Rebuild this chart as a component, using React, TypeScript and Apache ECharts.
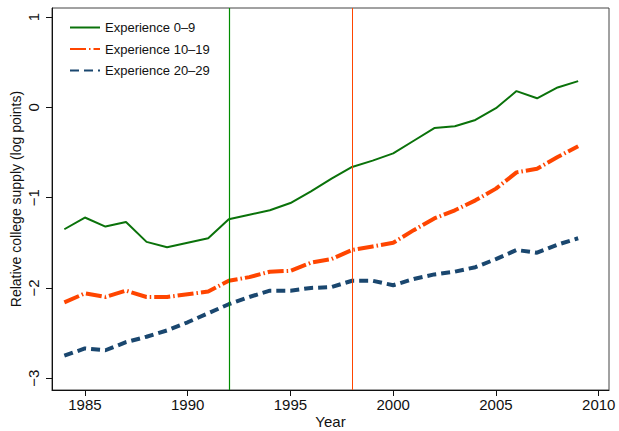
import React, { useEffect, useRef } from "react";
import * as echarts from "echarts";

const years = [1984,1985,1986,1987,1988,1989,1990,1991,1992,1993,1994,1995,1996,1997,1998,1999,2000,2001,2002,2003,2004,2005,2006,2007,2008,2009];
const exp0_9 = [-1.35,-1.22,-1.32,-1.27,-1.49,-1.55,-1.50,-1.45,-1.24,-1.19,-1.14,-1.06,-0.93,-0.79,-0.66,-0.59,-0.51,-0.37,-0.23,-0.21,-0.14,-0.01,0.18,0.10,0.22,0.29];
const exp10_19 = [-2.16,-2.06,-2.10,-2.03,-2.10,-2.10,-2.07,-2.04,-1.92,-1.88,-1.82,-1.81,-1.72,-1.68,-1.58,-1.54,-1.50,-1.36,-1.23,-1.14,-1.03,-0.90,-0.72,-0.68,-0.55,-0.43];
const exp20_29 = [-2.75,-2.67,-2.69,-2.60,-2.54,-2.47,-2.38,-2.28,-2.18,-2.10,-2.03,-2.03,-2.00,-1.99,-1.92,-1.92,-1.97,-1.90,-1.85,-1.82,-1.77,-1.68,-1.58,-1.61,-1.52,-1.45];
const xTicks = [1985, 1990, 1995, 2000, 2005, 2010];
const yTicks = [-3, -2, -1, 0, 1];
const vLines = [1992, 1998];
const seriesNames = ["Experience 0–9", "Experience 10–19", "Experience 20–29"];

const FONT = "Liberation Sans, Arial, Helvetica, sans-serif";
const GREEN = "#0a720a";
const ORANGE = "#ff4500";
const NAVY = "#1a476f";

export default function App() {
  const ref = useRef<HTMLDivElement>(null);
  useEffect(() => {
    if (!ref.current) return;
    const chart = echarts.init(ref.current, undefined, { renderer: "svg" });
    const pair = (arr: number[]) => years.map((y, i) => [y, arr[i]]);
    chart.setOption({
      animation: false,
      backgroundColor: "#fff",
      textStyle: { fontFamily: FONT },
      grid: {
        left: 52, right: 10, top: 8, bottom: 41,
        show: true, borderColor: "#444", borderWidth: 1,
        containLabel: false, outerBoundsMode: "none",
      },
      legend: {
        orient: "vertical",
        left: 64,
        top: 16,
        itemWidth: 30,
        itemHeight: 14,
        itemGap: 8.5,
        itemStyle: { opacity: 0 },
        textStyle: { fontSize: 13, color: "#111", fontFamily: FONT },
        data: seriesNames,
      },
      xAxis: {
        type: "value",
        min: 1983.4,
        max: 2010.5,
        name: "Year",
        nameLocation: "middle",
        nameGap: 24,
        nameMoveOverlap: false,
        nameTextStyle: { fontSize: 15, lineHeight: 15, color: "#111", fontFamily: FONT },
        splitLine: { show: false },
        axisLine: { show: true, onZero: false, lineStyle: { color: "#111", width: 1 } },
        axisTick: { show: true, length: 6, customValues: xTicks, lineStyle: { color: "#111" } },
        axisLabel: {
          customValues: xTicks,
          fontSize: 15,
          color: "#111",
          margin: 7,
          fontFamily: FONT,
          formatter: (v: number) => String(v),
        },
      },
      yAxis: {
        type: "value",
        min: -3.13,
        max: 1.1,
        name: "Relative college supply (log points)",
        nameLocation: "middle",
        nameGap: 29,
        nameMoveOverlap: false,
        nameTextStyle: { fontSize: 14, lineHeight: 14, color: "#111", fontFamily: FONT },
        splitLine: { show: false },
        axisLine: { show: true, onZero: false, lineStyle: { color: "#111", width: 1 } },
        axisTick: { show: true, length: 6, customValues: yTicks, lineStyle: { color: "#111" } },
        axisLabel: {
          customValues: yTicks,
          rotate: 90,
          fontSize: 15,
          color: "#111",
          margin: 11,
          fontFamily: FONT,
          formatter: (v: number) => String(v).replace("-", "−"),
        },
      },
      series: [
        {
          name: seriesNames[0],
          type: "line",
          data: pair(exp0_9),
          symbol: "none",
          color: GREEN,
          lineStyle: { width: 2, color: GREEN },
          markLine: {
            symbol: "none",
            silent: true,
            label: { show: false },
            lineStyle: { color: "#008c00", width: 1.2, type: "solid", opacity: 1 },
            data: [{ xAxis: vLines[0] }],
          },
        },
        {
          name: seriesNames[1],
          type: "line",
          data: pair(exp10_19),
          symbol: "none",
          color: ORANGE,
          lineStyle: { width: 4, color: ORANGE, type: [16, 3, 1.5, 3] },
          markLine: {
            symbol: "none",
            silent: true,
            label: { show: false },
            lineStyle: { color: ORANGE, width: 1, type: "solid" },
            data: [{ xAxis: vLines[1] }],
          },
        },
        {
          name: seriesNames[2],
          type: "line",
          data: pair(exp20_29),
          symbol: "none",
          color: NAVY,
          lineStyle: { width: 4, color: NAVY, type: [9, 5] },
        },
      ],
    });
    return () => chart.dispose();
  }, []);
  return <div ref={ref} style={{ width: 619, height: 431, position: "absolute", left: 0, top: 0 }} />;
}
